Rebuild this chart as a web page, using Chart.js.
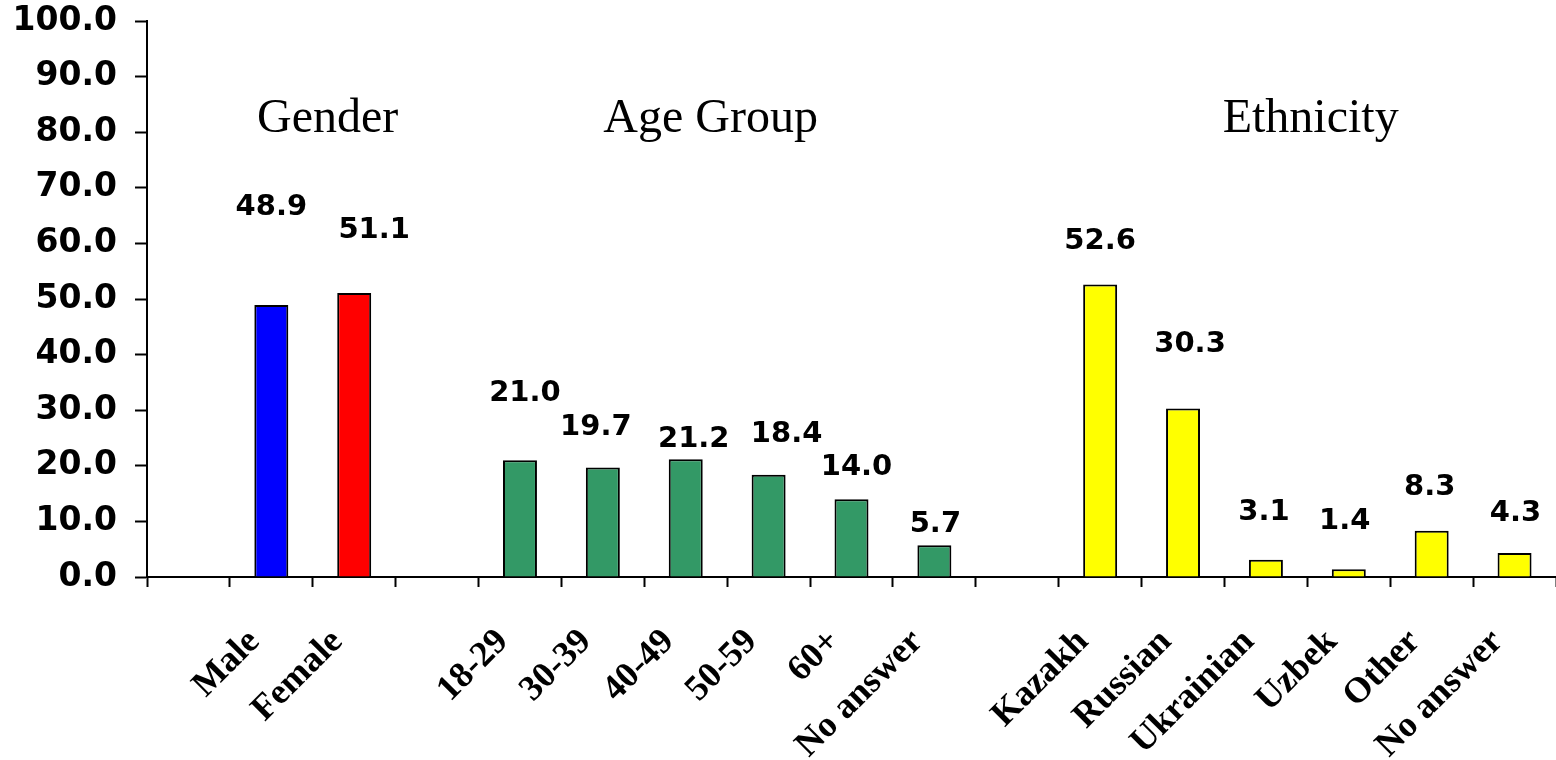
<!DOCTYPE html>
<html>
<head>
<meta charset="utf-8">
<script src="https://cdn.jsdelivr.net/npm/chart.js@4.4.0/dist/chart.umd.min.js"></script>
<style>
body { margin: 0; background: #fff; }
canvas { display: block; }
</style>
</head>
<body>
<canvas id="surveyChart" width="1556" height="760"></canvas>
<script>
const genderLabels = ['Male', 'Female'];
const genderValues = [48.9, 51.1];
const ageLabels = ['18-29', '30-39', '40-49', '50-59', '60+', 'No answer'];
const ageValues = [21.0, 19.7, 21.2, 18.4, 14.0, 5.7];
const ethnicLabels = ['Kazakh', 'Russian', 'Ukrainian', 'Uzbek', 'Other', 'No answer'];
const ethnicValues = [52.6, 30.3, 3.1, 1.4, 8.3, 4.3];
const groupTitles = ['Gender', 'Age Group', 'Ethnicity'];
const yTickValues = [0, 10, 20, 30, 40, 50, 60, 70, 80, 90, 100];

const genderColors = ['#0000FF', '#FF0000'];
const ageColor = '#339966';
const ethnicColor = '#FFFF00';

// an empty slot in front of each group, like the original sheet
const categories = [''].concat(genderLabels, [''], ageLabels, [''], ethnicLabels);
const genderStart = 1;
const ageStart = genderStart + genderLabels.length + 1;
const ethnicStart = ageStart + ageLabels.length + 1;

function placeSeries(values, start) {
    const arr = categories.map(() => null);
    values.forEach((v, i) => { arr[start + i] = v; });
    return arr;
}

// where the value labels sit (pixels from the top of each bar), hand placed in the original
const labelNudge = [
    [[0, -98], [20, -62]],
    [[5, -67], [-7, -40], [8, -20], [18, -40], [5, -32], [1, -21]],
    [[0, -43], [7, -64], [-2, -47], [-4, -48], [-2, -43], [1, -40]]
];
// group title anchors, in category units, and the value they sit on
const titleAnchor = [1.68, 6.3, 13.54];
const titleLevel = 80;

const labelPlugin = {
    id: 'barLabels',
    afterDatasetsDraw(chart) {
        const ctx = chart.ctx;
        const xs = chart.scales.x;
        const ys = chart.scales.y;
        ctx.save();
        ctx.fillStyle = '#000';
        ctx.font = 'bold 29px "DejaVu Sans"';
        ctx.textAlign = 'center';
        ctx.textBaseline = 'middle';
        chart.data.datasets.forEach((ds, di) => {
            const meta = chart.getDatasetMeta(di);
            let k = 0;
            meta.data.forEach((bar, i) => {
                const v = ds.data[i];
                if (v === null) return;
                const n = labelNudge[di][k++];
                ctx.fillText(v.toFixed(1), bar.x + n[0], bar.y + n[1]);
            });
        });

        ctx.font = '48px "Liberation Serif", "Times New Roman", serif';
        ctx.textBaseline = 'alphabetic';
        groupTitles.forEach((t, i) => {
            ctx.fillText(t, xs.getPixelForValue(titleAnchor[i]), ys.getPixelForValue(titleLevel));
        });
        ctx.restore();
    }
};

const ctx = document.getElementById('surveyChart').getContext('2d');
new Chart(ctx, {
    type: 'bar',
    data: {
        labels: categories,
        datasets: [
            {
                label: 'Gender',
                data: placeSeries(genderValues, genderStart),
                backgroundColor: placeSeries(genderColors, genderStart)
            },
            { label: 'Age Group', data: placeSeries(ageValues, ageStart), backgroundColor: ageColor },
            { label: 'Ethnicity', data: placeSeries(ethnicValues, ethnicStart), backgroundColor: ethnicColor }
        ]
    },
    options: {
        responsive: false,
        animation: false,
        layout: { padding: { top: 21, right: 0, left: 0, bottom: 0 } },
        datasets: {
            bar: {
                grouped: false,
                categoryPercentage: 1,
                barPercentage: 0.41,
                borderColor: '#000',
                borderWidth: 2
            }
        },
        plugins: {
            legend: { display: false },
            tooltip: { enabled: false }
        },
        scales: {
            x: {
                afterFit(scale) {
                    scale.height = 183;
                    scale.paddingLeft = 0;
                    scale.paddingRight = 0;
                },
                grid: {
                    drawOnChartArea: false,
                    offset: true,
                    tickLength: 10,
                    tickColor: '#000',
                    tickWidth: 2
                },
                border: { color: '#000', width: 2 },
                ticks: {
                    autoSkip: false,
                    minRotation: 45,
                    maxRotation: 45,
                    padding: 34,
                    labelOffset: -17,
                    color: '#000',
                    font: { family: '"Liberation Serif", "Times New Roman", serif', size: 36, weight: 'bold' }
                }
            },
            y: {
                min: 0,
                max: 100,
                afterFit(scale) {
                    scale.width = 147;
                    scale.paddingTop = 0;
                    scale.paddingBottom = 0;
                },
                afterBuildTicks(scale) { scale.ticks = yTickValues.map(v => ({ value: v })); },
                grid: {
                    drawOnChartArea: false,
                    tickLength: 12,
                    tickColor: '#000',
                    tickWidth: 2
                },
                border: { color: '#000', width: 2 },
                ticks: {
                    padding: 18,
                    color: '#000',
                    font: { family: '"DejaVu Sans"', size: 33, weight: 'bold' },
                    callback: v => v.toFixed(1)
                }
            }
        }
    },
    plugins: [labelPlugin]
});
</script>
</body>
</html>
